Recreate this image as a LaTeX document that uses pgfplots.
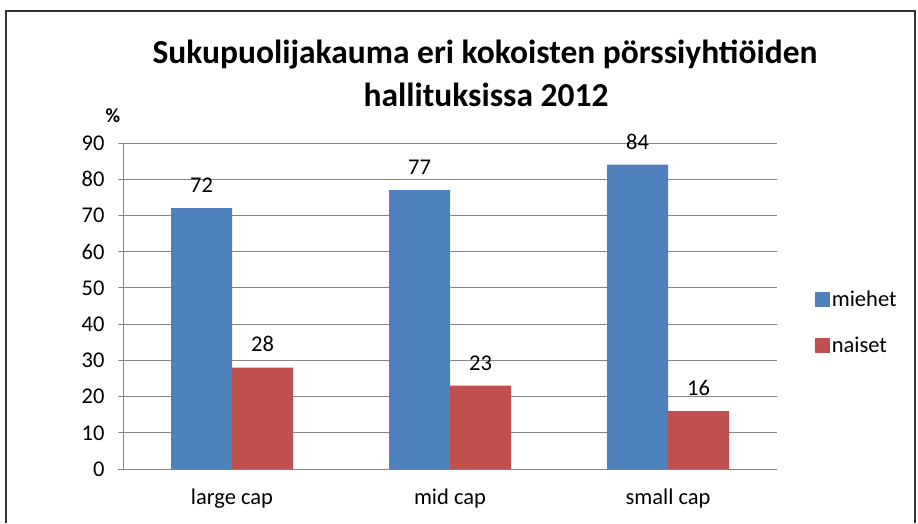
\documentclass[border=0pt]{standalone}
\usepackage{pgfplots}
\pgfplotsset{compat=1.18}
\usepackage{fontspec}
\setmainfont{Carlito}
\definecolor{barblue}{HTML}{4F81BD}
\definecolor{barred}{HTML}{C0504D}
\definecolor{gridgray}{HTML}{868686}

\begin{document}
\begin{tikzpicture}
\useasboundingbox (0pt,0pt) rectangle (918pt,523pt);
% chart frame
\draw[black!80, line width=1.2pt] (6pt,0pt) -- (6pt,512pt) -- (915pt,512pt) -- (915pt,0pt);
\node[font=\fontsize{33.5}{38}\selectfont\bfseries] at (485pt,468pt) {Sukupuolijakauma eri kokoisten pörssiyhtiöiden};
\node[font=\fontsize{33.5}{38}\selectfont\bfseries] at (486pt,428pt) {hallituksissa 2012};
\node[font=\fontsize{20}{24}\selectfont\bfseries] at (113pt,407pt) {\%};
\begin{axis}[at={(123pt,54pt)}, anchor=south west,
    scale only axis, width=654pt, height=326pt,
    ybar=0pt, bar width=61pt,
    xmin=-0.5, xmax=2.5, ymin=0, ymax=90,
    ytick={0,10,...,90},
    xtick={0,1,2}, xticklabels={large cap, mid cap, small cap},
    major x tick style={draw=none},
    extra x ticks={-0.5,0.5,1.5,2.5}, extra x tick labels={},
    extra x tick style={major tick length=5pt, tick style={gridgray, line width=1pt}},
    axis x line=bottom, axis y line=left,
    axis line style={-, gridgray, line width=1pt},
    tick align=outside, major tick length=5pt,
    tick style={gridgray, line width=1pt},
    ymajorgrids, grid style={gridgray, line width=1pt},
    tick label style={font=\fontsize{22.5}{27}\selectfont},
    yticklabel style={xshift=-10pt},
    xticklabel style={yshift=-11pt},
    /pgf/number format/assume math mode=true,
    nodes near coords,
    nodes near coords style={font=\fontsize{22.5}{27}\selectfont, black, yshift=12pt},
    legend style={at={(1.053,0.56)}, anchor=north west, draw=none,
        font=\fontsize{22.5}{27}\selectfont, row sep=25pt,
        legend cell align=left},
    legend image code/.code={\fill[#1] (0pt,-7.5pt) rectangle (15pt,7.5pt);},
    clip=false,
]
\addplot[fill=barblue, draw=none] coordinates {(0,72) (1,77) (2,84)};
\addlegendentry{miehet}
\addplot[fill=barred, draw=none] coordinates {(0,28) (1,23) (2,16)};
\addlegendentry{naiset}
\end{axis}
\end{tikzpicture}
\end{document}
